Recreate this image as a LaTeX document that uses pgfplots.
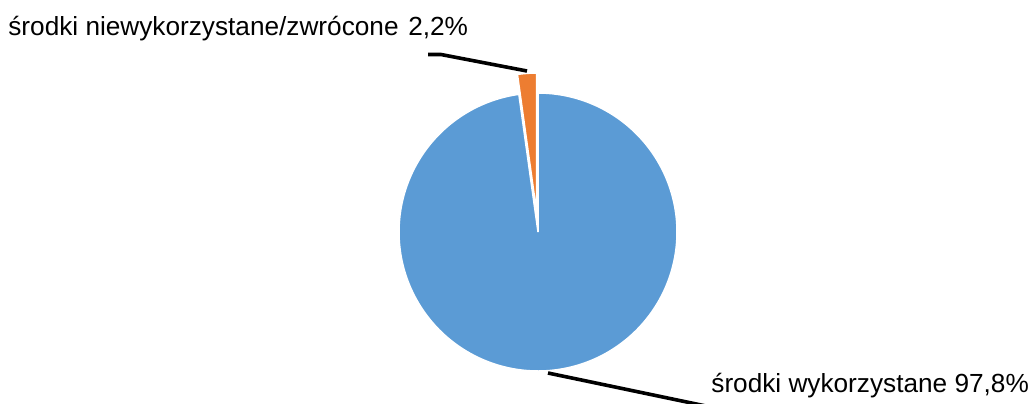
\documentclass[border=0pt]{standalone}
\usepackage{fontspec}
\setmainfont{Liberation Sans}
\usepackage{pgfplots}
\pgfplotsset{compat=1.18}
\definecolor{pieblue}{HTML}{5B9BD5}
\definecolor{pieorange}{HTML}{ED7D31}
\begin{document}
\begin{tikzpicture}
\begin{axis}[
  scale only axis, width=516.5pt, height=201.5pt,
  xmin=0, xmax=1033, ymin=0, ymax=403, y dir=reverse,
  hide axis,
]
\path (rel axis cs:0,0) rectangle (rel axis cs:1,1);
% shares (percent): wykorzystane 97.8, niewykorzystane 2.2
\pgfmathsetmacro{\aStart}{90+3.6*2.2}
\pgfmathsetmacro{\aMid}{90+1.8*2.2}
\pgfmathsetmacro{\ocx}{538+20*cos(\aMid)}
\pgfmathsetmacro{\ocy}{232-20*sin(\aMid)}
\addplot[fill=pieblue, draw=white, line width=0.75pt, domain=\aStart:450, samples=240]
  ({538+139*cos(x)}, {232-139*sin(x)}) -- (axis cs:538,232) -- cycle;
\addplot[fill=pieorange, draw=white, line width=0.75pt, domain=90:\aStart, samples=20]
  ({\ocx+139*cos(x)}, {\ocy-139*sin(x)}) -- (axis cs:\ocx,\ocy) -- cycle;
\addplot[black, line width=1.8pt] coordinates {(428,54.5) (441,54.5) (527,71)};
\addplot[black, line width=1.8pt] coordinates {(548,373) (725,410)};
\node[anchor=base west, inner sep=0pt, font=\fontsize{13.1}{15}\selectfont] at (axis cs:8,35) {środki niewykorzystane/zwrócone\hspace{1.2pt} 2,2\%};
\node[anchor=base west, inner sep=0pt, font=\fontsize{13.1}{15}\selectfont] at (axis cs:711,392) {środki wykorzystane 97,8\%};
\end{axis}
\end{tikzpicture}
\end{document}
